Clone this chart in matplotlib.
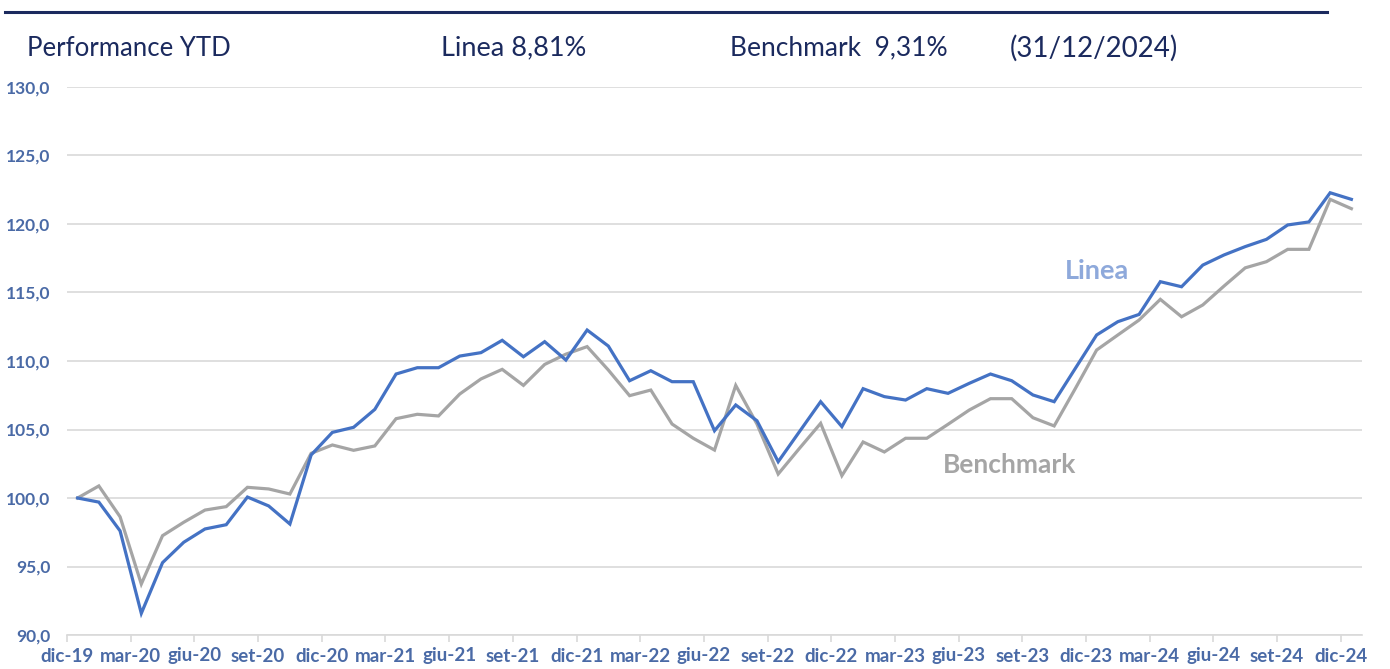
import matplotlib
matplotlib.use("Agg")
from matplotlib import pyplot as plt
import numpy as np

months = ['dic-19', 'mar-20', 'giu-20', 'set-20', 'dic-20', 'mar-21', 'giu-21',
          'set-21', 'dic-21', 'mar-22', 'giu-22', 'set-22', 'dic-22', 'mar-23',
          'giu-23', 'set-23', 'dic-23', 'mar-24', 'giu-24', 'set-24', 'dic-24']

linea = [100.0, 99.7, 97.6, 91.58, 95.28, 96.77, 97.74, 98.05, 100.07, 99.42,
         98.1, 103.14, 104.79, 105.16, 106.47, 109.05, 109.51, 109.51, 110.36, 110.61,
         111.51, 110.31, 111.41, 110.07, 112.26, 111.09, 108.56, 109.29, 108.49, 108.49,
         104.91, 106.79, 105.64, 102.65, 104.84, 107.03, 105.21, 107.98, 107.4, 107.15,
         107.98, 107.64, 108.37, 109.05, 108.56, 107.52, 107.03, 109.47, 111.9, 112.87,
         113.4, 115.79, 115.42, 117.0, 117.74, 118.35, 118.88, 119.93, 120.15, 122.28,
         121.8]

benchmark = [100.0, 100.88, 98.63, 93.72, 97.25, 98.23, 99.12, 99.37, 100.78, 100.66,
             100.29, 103.26, 103.87, 103.48, 103.8, 105.79, 106.11, 105.99, 107.59, 108.69,
             109.39, 108.22, 109.75, 110.5, 111.05, 109.34, 107.47, 107.88, 105.4, 104.36,
             103.5, 108.22, 105.4, 101.75, 103.62, 105.45, 101.63, 104.09, 103.36, 104.36,
             104.36, 105.38, 106.42, 107.25, 107.25, 105.86, 105.26, 108.0, 110.8, 111.9,
             112.99, 114.5, 113.23, 114.09, 115.47, 116.8, 117.25, 118.15, 118.15, 121.8,
             121.12]

navy = '#1B2A5E'
tick_col = '#4A6AA6'

plt.rcParams['font.family'] = ['Lato', 'DejaVu Sans']

fig = plt.figure(figsize=(13.9, 6.69), dpi=100)
ax = fig.add_axes([67 / 1390, 34 / 669, 1295 / 1390, 548 / 669])

x = np.arange(len(linea))
ax.plot(x, benchmark, color='#A5A5A5', lw=2.3, solid_joinstyle='miter')
ax.plot(x, linea, color='#4472C4', lw=2.3, solid_joinstyle='miter')

ax.set_xlim(-0.5, len(linea) - 0.5)
ax.set_ylim(90, 130)
ax.set_yticks(np.arange(90, 131, 5))
ax.set_yticklabels([f'{v:.1f}'.replace('.', ',') for v in np.arange(90, 131, 5)])
ax.set_xticks(np.arange(len(months)) * 3 - 0.5)
ax.set_xticklabels(months)

ax.grid(axis='y', color='#D9D9D9', lw=1.2)
ax.set_axisbelow(True)
for s in ['top', 'right', 'left']:
    ax.spines[s].set_visible(False)
ax.spines['bottom'].set_color('#D9D9D9')
ax.spines['bottom'].set_linewidth(1.2)
ax.tick_params(axis='y', length=0, pad=12, labelsize=12.5, labelcolor=tick_col)
ax.tick_params(axis='x', length=5, color='#D9D9D9', width=1.2, pad=4,
               labelsize=13.5, labelcolor=tick_col)
for lab in ax.get_xticklabels() + ax.get_yticklabels():
    lab.set_fontweight('bold')

ax.text(48.0, 116.6, 'Linea', color='#8EA9DB', fontsize=19.5, fontweight='bold',
        ha='center', va='center')
ax.text(43.9, 102.4, 'Benchmark', color='#A5A5A5', fontsize=19, fontweight='bold',
        ha='center', va='center')

# header
fig.add_artist(plt.Line2D([5 / 1390, 1327 / 1390], [1 - 12 / 669, 1 - 12 / 669],
                          color=navy, lw=2.2))
hy = 1 - 48 / 669
fig.text(27 / 1390, hy, 'Performance YTD', color=navy, fontsize=18.5, va='center')
fig.text(441 / 1390, hy, 'Linea 8,81%', color=navy, fontsize=19.5, va='center')
fig.text(730 / 1390, hy, 'Benchmark  9,31%', color=navy, fontsize=19, va='center')
fig.text(1010 / 1390, hy, '(31/12/2024)', color=navy, fontsize=20, va='center')

fig.savefig('out.png', dpi=100)
